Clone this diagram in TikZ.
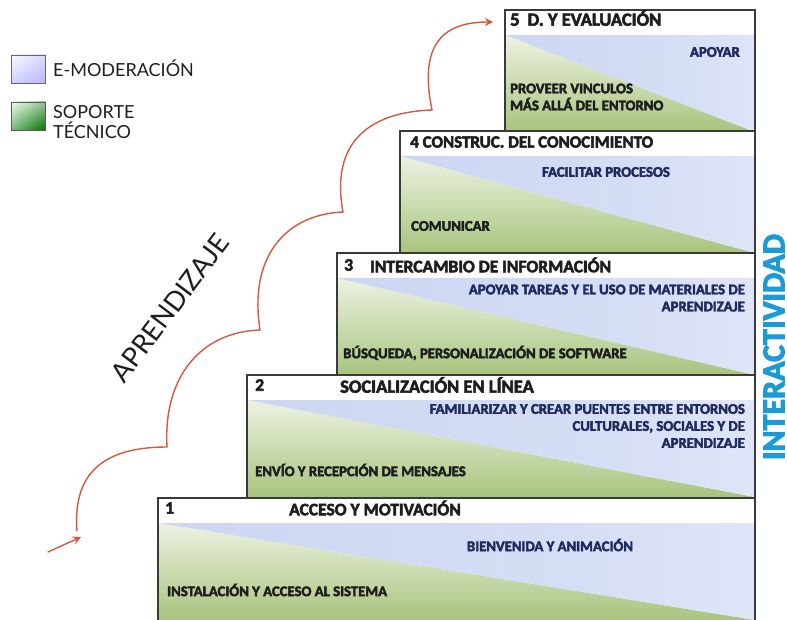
\documentclass[tikz,border=0pt]{standalone}
\usepackage{fontspec}
\setmainfont{Carlito}[BoldFeatures={FakeBold=3}]
\newfontfamily\legendfont{Lato}
\usetikzlibrary{arrows.meta,shadings}

\definecolor{boxline}{HTML}{3A3A3A}
\definecolor{greentop}{HTML}{EDF2E2}
\definecolor{greenbot}{HTML}{A8C47E}
\definecolor{bluegray}{HTML}{8E9DB0}
\definecolor{bluemid}{HTML}{CCD6F2}
\definecolor{bluesoft}{HTML}{D6DEF5}
\definecolor{bluelight}{HTML}{EEF1FA}
\definecolor{navytext}{HTML}{1F2B5E}
\definecolor{darktext}{HTML}{1E1E1E}
\definecolor{curvered}{HTML}{D4583E}
\definecolor{interblue}{HTML}{1B9AD6}

% e-moderation fill: grey-blue at the far left, periwinkle, then almost white
\pgfdeclarehorizontalshading{moderationshade}{100bp}{%
  color(0bp)=(bluegray); color(25bp)=(bluemid); color(60bp)=(bluesoft);
  color(100bp)=(bluelight)}

\tikzset{
  steptitle/.style={font=\bfseries\fontsize{17.5}{20}\selectfont, text=darktext, inner sep=0pt},
  moderation/.style={font=\bfseries\fontsize{14.7}{17}\selectfont, text=navytext, inner sep=0pt, align=right},
  support/.style={font=\bfseries\fontsize{14.7}{17}\selectfont, text=darktext, inner sep=0pt, align=left},
  legendtext/.style={font=\legendfont\fontsize{18}{20}\selectfont, text=darktext, inner sep=0pt, align=left, anchor=west},
  redline/.style={draw=curvered, line width=1.4pt, line cap=round},
}

\begin{document}
\begin{tikzpicture}[x=1pt,y=-1pt]
\useasboundingbox (0,0) rectangle (787,620);
\fill[white] (0,0) rectangle (787,620);

% the five steps: white header strip, then the green/blue split area
\foreach \n/\lx/\ty in {5/505/10, 4/400/131, 3/337/253, 2/247/375, 1/158/498} {
  \pgfmathsetmacro\hy{\ty+25}
  \pgfmathsetmacro\by{\ty+122}
  \shade[top color=greentop, bottom color=greenbot]
    (\lx,\hy) -- (755,\by) -- (\lx,\by) -- cycle;
  \shade[shading=moderationshade]
    (\lx,\hy) -- (755,\hy) -- (755,\by) -- cycle;
  \draw[boxline, line width=1.2pt] (\lx,\by) -- (\lx,\ty) -- (755,\ty) -- (755,\by);
}

% step 5
\node[steptitle, anchor=west, font=\bfseries\fontsize{18.5}{21}\selectfont] (t5) at (510,18) {5\hspace{8pt}D. Y EVALUACIÓN};
\node[moderation, anchor=east] (m5) at (740,52) {APOYAR};
\node[support, anchor=west] (s5) at (510,97) {PROVEER VINCULOS\\MÁS ALLÁ DEL ENTORNO};

% step 4
\node[steptitle, anchor=west, font=\bfseries\fontsize{17}{20}\selectfont] (t4) at (410,142) {4 CONSTRUC. DEL CONOCIMIENTO};
\node[moderation] (m4) at (606,172) {FACILITAR PROCESOS};
\node[support, anchor=west] (s4) at (411,226) {COMUNICAR};

% step 3
\node[steptitle, anchor=west] (n3) at (344,265) {3};
\node[steptitle, anchor=west] (t3) at (370,265) {INTERCAMBIO DE INFORMACIÓN};
\node[moderation, anchor=east] (m3) at (745,298) {APOYAR TAREAS Y EL USO DE MATERIALES DE\\APRENDIZAJE};
\node[support, anchor=west] (s3) at (343,353) {BÚSQUEDA, PERSONALIZACIÓN DE SOFTWARE};

% step 2
\node[steptitle, anchor=west] (n2) at (255,385) {2};
\node[steptitle, anchor=west, font=\bfseries\fontsize{18.5}{21}\selectfont] (t2) at (340,385) {SOCIALIZACIÓN EN LÍNEA};
\node[moderation, anchor=east] (m2) at (745,426) {FAMILIARIZAR Y CREAR PUENTES ENTRE ENTORNOS\\CULTURALES, SOCIALES Y DE\\APRENDIZAJE};
\node[support, anchor=west] (s2) at (255,470) {ENVÍO Y RECEPCIÓN DE MENSAJES};

% step 1
\node[steptitle, anchor=west] (n1) at (165,508) {1};
\node[steptitle] (t1) at (375,508) {ACCESO Y MOTIVACIÓN};
\node[moderation] (m1) at (550,545) {BIENVENIDA Y ANIMACIÓN};
\node[support, anchor=west] (s1) at (167,590) {INSTALACIÓN Y ACCESO AL SISTEMA};

% legend
\shade[draw=gray!80!black, line width=0.8pt,
       upper left=white!85!blue!15, upper right=blue!15!white,
       lower left=blue!18!white, lower right=blue!28!white]
  (11,55) rectangle (45,83);
\shade[draw=gray!70!black, line width=0.8pt,
       upper left=green!8!white, upper right=green!40!black!40!white,
       lower left=green!45!black!50!white, lower right=green!45!black]
  (11,102) rectangle (45,130);
\node[legendtext] (lm) at (53,68) {E-MODERACIÓN};
\node[legendtext] (ls) at (53,122) {SOPORTE\\TÉCNICO};

% side labels
\node[rotate=53, inner sep=0pt, font=\legendfont\fontsize{27}{30}\selectfont, text=darktext] (apr) at (170,308) {APRENDIZAJE};
\node[rotate=90, inner sep=0pt, font=\bfseries\fontsize{32}{36}\selectfont, text=interblue] (int) at (774,347) {INTERACTIVIDAD};

% climbing curve
\coordinate (a0) at (48,552);
\coordinate (a1) at (81,537);
\coordinate (c0) at (77,531);
\coordinate (c1) at (167,447);
\coordinate (c2) at (260,330);
\coordinate (c3) at (343,212);
\coordinate (c4) at (432,110);
\coordinate (c5) at (493,22);
\draw[redline, -{Stealth[length=8pt,width=8pt]}] (a0) -- (a1);
\draw[redline, -{Stealth[length=8pt,width=8pt]}]
  (c0) .. controls (72,468) and (110,447) .. (c1)
       .. controls (163,378) and (200,332) .. (c2)
       .. controls (248,252) and (290,214) .. (c3)
       .. controls (330,142) and (370,112) .. (c4)
       .. controls (418,42) and (445,22) .. (c5);
\end{tikzpicture}
\end{document}
